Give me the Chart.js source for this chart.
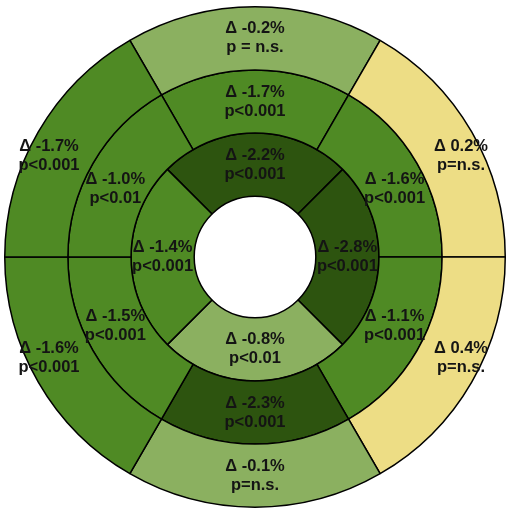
<!DOCTYPE html>
<html>
<head>
<meta charset="utf-8">
<title>Bullseye</title>
<script src="https://cdn.jsdelivr.net/npm/chart.js@4/dist/chart.umd.min.js"></script>
<style>
  html, body { margin: 0; padding: 0; background: #fff; }
  #wrap { width: 510px; height: 518px; }
</style>
</head>
<body>
<div id="wrap"><canvas id="bullseye" width="510" height="518"></canvas></div>
<script>
// Segment names, clockwise from the upper-left boundary
const outerSegments = ['Anterior', 'Anterolateral', 'Inferolateral', 'Inferior', 'Inferoseptal', 'Anteroseptal'];
const middleSegments = ['Anterior', 'Anterolateral', 'Inferolateral', 'Inferior', 'Inferoseptal', 'Anteroseptal'];
const innerSegments = ['Anterior', 'Lateral', 'Inferior', 'Septal'];

// Angular share of each segment (all equal in the plot)
const outerSpan = [1, 1, 1, 1, 1, 1];
const middleSpan = [1, 1, 1, 1, 1, 1];
const innerSpan = [1, 1, 1, 1];

// Change in %
const outerDelta = [-0.2, 0.2, 0.4, -0.1, -1.6, -1.7];
const middleDelta = [-1.7, -1.6, -1.1, -2.3, -1.5, -1.0];
const innerDelta = [-2.2, -2.8, -0.8, -1.4];

// p-value texts
const outerP = ['p = n.s.', 'p=n.s.', 'p=n.s.', 'p=n.s.', 'p<0.001', 'p<0.001'];
const middleP = ['p<0.001', 'p<0.001', 'p<0.001', 'p<0.001', 'p<0.001', 'p<0.01'];
const innerP = ['p<0.001', 'p<0.001', 'p<0.01', 'p<0.001'];

// Colour scale by delta
const colorFor = (d) => {
    if (d > 0) return '#EDDD85';
    if (d <= -2.0) return '#2D540F';
    if (d <= -1.0) return '#4F8A24';
    return '#8BB060';
};

const ringDataset = (name, span, delta, pvals, rotation) => ({
    label: name,
    data: span,
    deltas: delta,
    pvals: pvals,
    backgroundColor: delta.map(colorFor),
    borderColor: '#000',
    borderWidth: 1.5,
    rotation: rotation,
});

// Draw the "Δ x%" / p text on each segment
const segmentLabels = {
    id: 'segmentLabels',
    afterDatasetsDraw(chart) {
        const ctx = chart.ctx;
        ctx.save();
        ctx.font = 'bold 16.5px "Liberation Sans", Arial, sans-serif';
        ctx.fillStyle = '#141414';
        ctx.textAlign = 'center';
        ctx.textBaseline = 'middle';
        chart.data.datasets.forEach((ds, i) => {
            const meta = chart.getDatasetMeta(i);
            meta.data.forEach((arc, j) => {
                const p = arc.getProps(['x', 'y', 'startAngle', 'endAngle', 'innerRadius', 'outerRadius'], true);
                const mid = (p.startAngle + p.endAngle) / 2;
                // side labels sit a little closer to the horizontal axis
                const a = Math.atan2(Math.sin(mid) * 0.85, Math.cos(mid));
                // outer side labels are pushed a bit outwards
                const r = (p.innerRadius + p.outerRadius) / 2 + (i === 0 ? 12 * Math.abs(Math.cos(a)) : 0);
                const cx = p.x + Math.cos(a) * r;
                const cy = p.y + Math.sin(a) * r;
                const d = ds.deltas[j];
                const txt = 'Δ ' + (d > 0 ? '' : '-') + Math.abs(d).toFixed(1) + '%';
                ctx.fillText(txt, cx, cy - 9.5);
                ctx.fillText(ds.pvals[j], cx, cy + 9.5);
            });
        });
        ctx.restore();
    }
};

const chart = new Chart(document.getElementById('bullseye'), {
    type: 'doughnut',
    data: {
        labels: outerSegments,
        datasets: [
            ringDataset('Basal', outerSpan, outerDelta, outerP, -30),
            ringDataset('Mid', middleSpan, middleDelta, middleP, -30),
            ringDataset('Apical', innerSpan, innerDelta, innerP, -45),
        ],
    },
    options: {
        responsive: false,
        animation: false,
        cutout: '24.3%',
        layout: { padding: { left: 4, right: 4, top: 5, bottom: 9 } },
        plugins: {
            legend: { display: false },
            tooltip: { enabled: false },
        },
    },
    plugins: [segmentLabels],
});
</script>
</body>
</html>
